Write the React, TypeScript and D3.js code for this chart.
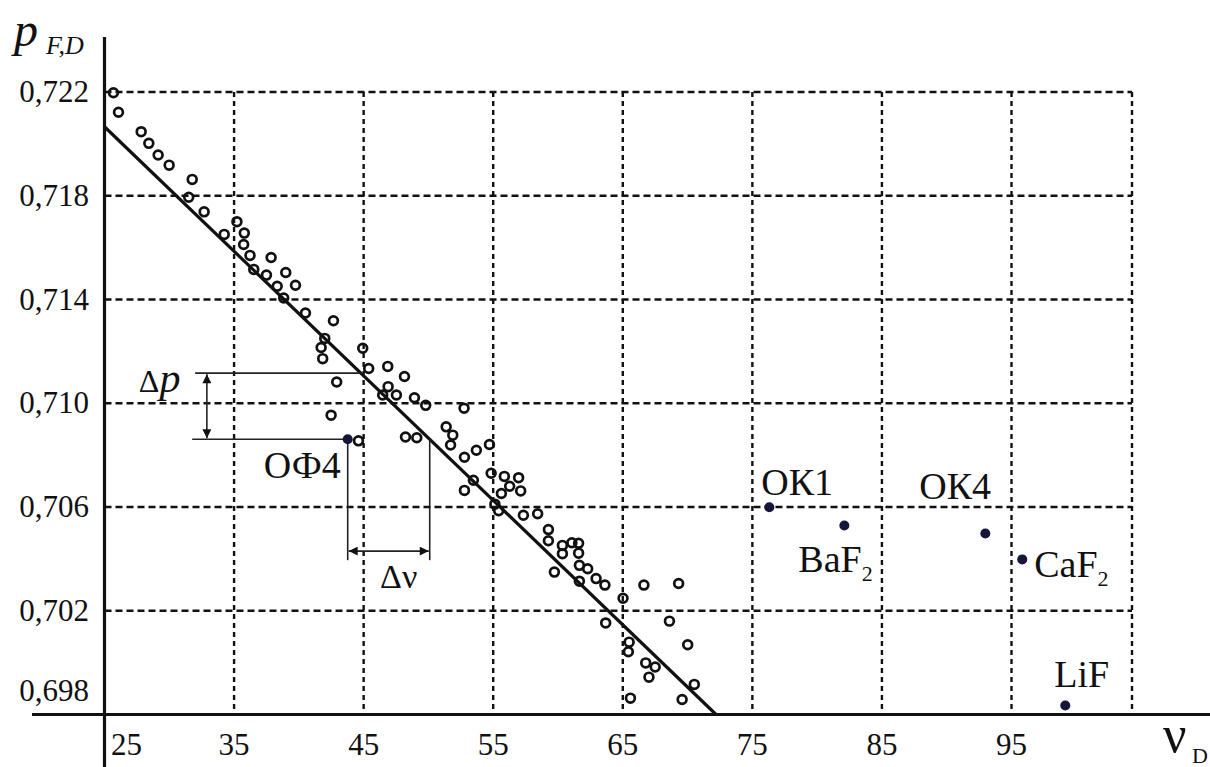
import React from "react"
import * as d3 from "d3"

// measured glasses (open circles): Abbe number nu_D and relative partial dispersion p_F,D
const nuValues = [
  25.69, 26.08, 27.83, 28.42, 29.14, 29.99, 31.77, 31.5, 32.69, 34.24,
  35.22, 35.79, 35.74, 36.23, 37.86, 36.52, 37.5, 38.99, 38.33, 39.74,
  38.83, 40.51, 42.67, 42.0, 41.72, 41.84, 44.93, 45.39, 42.92, 46.86,
  48.15, 46.89, 46.47, 47.53, 48.92, 49.79, 42.49, 44.6, 48.23, 49.1,
  52.75, 51.37, 51.88, 51.71, 52.78, 53.7, 54.71, 54.84, 53.47, 52.78,
  55.86, 56.96, 56.27, 57.12, 55.63, 55.13, 55.42, 57.33, 58.43, 59.26,
  59.26, 59.72, 60.34, 60.34, 61.07, 61.59, 61.59, 61.65, 62.29, 61.65,
  62.94, 63.62, 66.63, 69.31, 65.02, 63.68, 68.6, 65.49, 65.43, 70.01,
  66.77, 67.5, 67.02, 70.52, 65.59, 69.58,
]
const pValues = [
  0.72197, 0.72122, 0.72047, 0.72002, 0.71957, 0.71918, 0.71863, 0.71794, 0.71738, 0.71651,
  0.717, 0.71656, 0.71612, 0.7157, 0.71562, 0.71516, 0.71494, 0.71504, 0.71451, 0.71455,
  0.71406, 0.71348, 0.71318, 0.7125, 0.71215, 0.71172, 0.71212, 0.71134, 0.71082, 0.71142,
  0.71103, 0.71064, 0.71032, 0.71032, 0.71021, 0.70992, 0.70954, 0.70855, 0.7087, 0.70867,
  0.70981, 0.70909, 0.70877, 0.70839, 0.70792, 0.70819, 0.70841, 0.7073, 0.70703, 0.70664,
  0.70718, 0.70713, 0.7068, 0.70662, 0.70652, 0.70611, 0.70586, 0.70568, 0.70574, 0.70513,
  0.7047, 0.70349, 0.70452, 0.7042, 0.70462, 0.7046, 0.70422, 0.70375, 0.70362, 0.70314,
  0.70324, 0.70299, 0.70299, 0.70305, 0.70248, 0.70153, 0.7016, 0.70079, 0.70042, 0.70069,
  0.69999, 0.69983, 0.69944, 0.69916, 0.69863, 0.69858,
]

// named glasses / crystals (filled dots)
const glassNames = ["ОФ4", "ОК1", "BaF2", "ОК4", "CaF2", "LiF"]
const glassNu = [43.77, 76.31, 82.1, 92.98, 95.83, 99.15]
const glassP = [0.70861, 0.70599, 0.70529, 0.70498, 0.70398, 0.69835]

// normal line
const fitNu = [25, 72.2]
const fitP = [0.72066, 0.698]

const xTicks = [25, 35, 45, 55, 65, 75, 85, 95]
const yTicks = [0.698, 0.702, 0.706, 0.71, 0.714, 0.718, 0.722]
const xGridEnd = 104.3

// label offsets (px) for the named points
const labelOffsets: [number, number, string][] = [
  [-7, 39, "end"],
  [-8, -12, "start"],
  [-46, 47, "start"],
  [-66, -34, "start"],
  [12, 18, "start"],
  [-11, -18, "start"],
]

const FONT = "Liberation Serif"
const INK = "#111"

export default function App() {
  const W = 1210
  const H = 767
  const x = d3.scaleLinear().domain([25, xGridEnd]).range([104.5, 1132])
  const y = d3.scaleLinear().domain([0.698, 0.722]).range([714.5, 92])
  const fit = d3.scaleLinear().domain(fitNu).range(fitP)
  const fmt = (v: number) => d3.format(".3f")(v).replace(".", ",")

  const x0 = x(25)
  const yAxis = y(0.698)

  // Δp / Δν construction around ОФ4
  const ofNu = glassNu[0]
  const ofP = glassP[0]
  const topP = 0.71116
  const topNu = fit.invert(topP)
  const lineNu = fit.invert(ofP)
  const leftNu = 32.0
  const arrowNu = 32.9
  const arrowP = 0.7043
  const bottomP = 0.70395

  const renderLabel = (name: string, i: number) => {
    const [dx, dy, anchor] = labelOffsets[i]
    const px = x(glassNu[i]) + dx
    const py = y(glassP[i]) + dy
    const sub = name.endsWith("F2")
    return (
      <text key={"l" + i} x={px} y={py} fontSize={38} textAnchor={anchor} fill={INK} fontFamily={FONT}>
        {sub ? name.slice(0, -1) : name}
        {sub && (
          <tspan fontSize={22} dy={9}>2</tspan>
        )}
      </text>
    )
  }

  return (
    <svg
      width={W}
      height={H}
      style={{ position: "absolute", left: 0, top: 0, background: "#fff" }}
    >
      <defs>
        <marker id="arr" viewBox="0 0 10 10" refX={10} refY={5} markerWidth={12} markerHeight={9}
          markerUnits="userSpaceOnUse" orient="auto-start-reverse">
          <path d="M0,0 L10,5 L0,10 z" fill={INK} />
        </marker>
      </defs>

      {/* grid */}
      <g stroke={INK} strokeWidth={2.4} fill="none">
        {[...xTicks.slice(1), xGridEnd].map(v => (
          <line key={"gx" + v} x1={x(v)} x2={x(v)} y1={y(0.722)} y2={yAxis} strokeDasharray="5,4" />
        ))}
        {yTicks.slice(1).map(v => (
          <line key={"gy" + v} x1={x0} x2={x(xGridEnd)} y1={y(v)} y2={y(v)} strokeDasharray="7,4" />
        ))}
      </g>

      {/* axes */}
      <line x1={x0} x2={x0} y1={37} y2={H} stroke={INK} strokeWidth={3.2} />
      <line x1={32} x2={W} y1={yAxis} y2={yAxis} stroke={INK} strokeWidth={3.2} />

      {/* tick labels */}
      {xTicks.map((v, i) => (
        <text key={"tx" + v} x={x(v) + (i === 0 ? 22 : 0)} y={755} textAnchor="middle"
          fontSize={31} fontFamily={FONT} fill={INK}>{v}</text>
      ))}
      {yTicks.map((v, i) => (
        <text key={"ty" + v} x={89} y={y(v) + (i === 0 ? -14 : 10)} textAnchor="end"
          fontSize={31} fontFamily={FONT} fill={INK}>{fmt(v)}</text>
      ))}

      {/* axis titles */}
      <text x={14} y={46} fontSize={48} fontStyle="italic" fontFamily={FONT} fill={INK}>p</text>
      <text x={46} y={54} fontSize={26} fontStyle="italic" fontFamily={FONT} fill={INK}>F,D</text>
      <text x={1163} y={752} fontSize={52} fontFamily={FONT} fill={INK}>ν</text>
      <text x={1192} y={763} fontSize={22} fontFamily={FONT} fill={INK}>D</text>

      {/* normal line */}
      <line x1={x(fitNu[0])} y1={y(fitP[0])} x2={x(fitNu[1])} y2={y(fitP[1])} stroke={INK} strokeWidth={3.2} />

      {/* measured glasses */}
      <g fill="none" stroke={INK} strokeWidth={2.7}>
        {nuValues.map((v, i) => (
          <circle key={"c" + i} cx={x(v)} cy={y(pValues[i])} r={4.4} />
        ))}
      </g>

      {/* Δp construction */}
      <g stroke="#222" strokeWidth={1.6} fill="none">
        <line x1={x(leftNu)} x2={x(topNu)} y1={y(topP)} y2={y(topP)} />
        <line x1={x(leftNu) - 3} x2={x(ofNu)} y1={y(ofP)} y2={y(ofP)} />
        <line x1={x(arrowNu)} x2={x(arrowNu)} y1={y(topP) + 1} y2={y(ofP) - 1}
          markerStart="url(#arr)" markerEnd="url(#arr)" />
        <line x1={x(ofNu)} x2={x(ofNu)} y1={y(ofP)} y2={y(bottomP)} />
        <line x1={x(lineNu)} x2={x(lineNu)} y1={y(ofP)} y2={y(bottomP)} />
        <line x1={x(ofNu) + 1} x2={x(lineNu) - 1} y1={y(arrowP)} y2={y(arrowP)}
          markerStart="url(#arr)" markerEnd="url(#arr)" />
      </g>
      <text x={x(arrowNu) - 68} y={y(topP) + 19} fill={INK} fontFamily={FONT}>
        <tspan fontSize={32}>Δ</tspan>
        <tspan fontSize={42} fontStyle="italic">p</tspan>
      </text>
      <text x={(x(ofNu) + x(lineNu)) / 2 + 10} y={y(arrowP) + 37} fontSize={34} textAnchor="middle"
        fontFamily={FONT} fill={INK}>
        Δν
      </text>

      {/* named points */}
      <g fill="#15163a">
        {glassNu.map((v, i) => (
          <circle key={"g" + i} cx={x(v)} cy={y(glassP[i])} r={5} />
        ))}
      </g>
      {glassNames.map(renderLabel)}
    </svg>
  )
}
